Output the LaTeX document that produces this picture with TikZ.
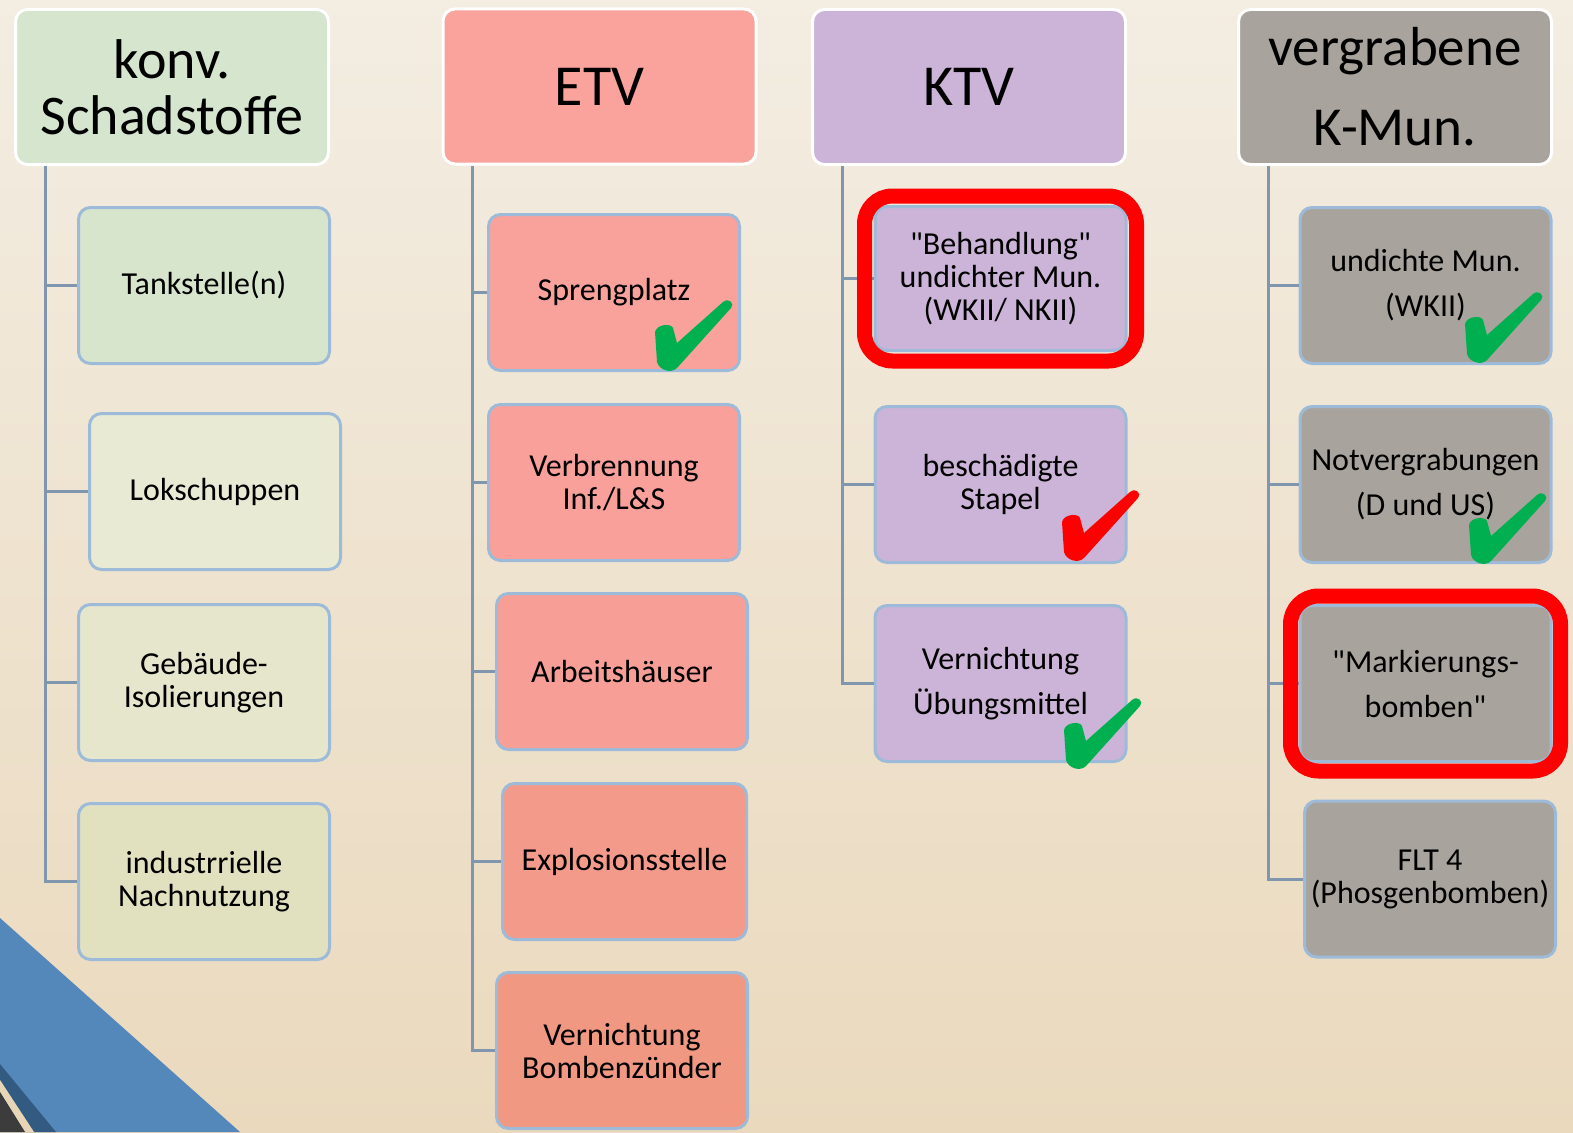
\documentclass[tikz,border=0pt]{standalone}
\usepackage{fontspec}
\setmainfont{Carlito}[Ligatures=TeXOff]
\usetikzlibrary{fit}

\definecolor{bgtop}{HTML}{F3EDE2}
\definecolor{bgmid}{HTML}{F6F2EA}
\definecolor{bgbot}{HTML}{EAD9BD}
\definecolor{cornerblue}{HTML}{5588BA}
\definecolor{cornerdark}{HTML}{335A80}
\definecolor{cornergray}{HTML}{3C3C3C}
\definecolor{cornerbeige}{HTML}{E6D6B6}
\definecolor{boxline}{HTML}{9DBBD9}
\definecolor{trunkblue}{HTML}{8096AE}
\definecolor{kgreen}{HTML}{D5E5CE}
\definecolor{kgreenA}{HTML}{D8E5CD}
\definecolor{kgreenB}{HTML}{E8EAD4}
\definecolor{kgreenC}{HTML}{E5E6CB}
\definecolor{kgreenD}{HTML}{E1E1C0}
\definecolor{epink}{HTML}{F9A39C}
\definecolor{epinkA}{HTML}{F9A29C}
\definecolor{epinkB}{HTML}{F8A099}
\definecolor{epinkC}{HTML}{F79F96}
\definecolor{epinkD}{HTML}{F49A8A}
\definecolor{epinkE}{HTML}{F09882}
\definecolor{tlila}{HTML}{CBB4D7}
\definecolor{vgray}{HTML}{A8A49D}
\definecolor{chkgreen}{HTML}{00B050}

\tikzset{
    hdr/.style={draw=white, line width=3pt, rounded corners=12pt,
        minimum width=313pt, minimum height=155pt, inner sep=0pt,
        align=center, text=black},
    item/.style={draw=boxline, line width=3pt, rounded corners=12pt,
        minimum width=251pt, minimum height=156pt, inner sep=0pt,
        align=center, font=\fontsize{32}{33}\selectfont},
    wide/.style={font=\fontsize{32}{45}\selectfont},
    trunk/.style={draw=trunkblue, line width=3pt},
    ring/.style={draw=red, line width=15pt, rounded corners=28pt, inner sep=9pt},
    chk/.pic={
        \fill[pic actions] (-18,-38) .. controls (-16,-46) and (-2,-47) .. (0,-42)
            -- (4,-27) -- (50,-68) .. controls (56,-73) and (62,-66) .. (58,-62)
            -- (4,-2) .. controls (-2,4) and (-14,0) .. (-16,-8) -- cycle;
    }
}

\begin{document}
\begin{tikzpicture}[x=1pt,y=-1pt]
    \useasboundingbox (0,0) rectangle (1573,1132);
    % background
    \shade[top color=bgtop, middle color=bgmid, bottom color=bgbot] (0,0) rectangle (1573,1132);
    \fill[cornerblue] (0,918) -- (240,1132) -- (0,1132) -- cycle;
    \fill[cornerdark] (0,1064) -- (56,1132) -- (34,1132) -- (0,1080) -- cycle;
    \fill[cornerbeige] (0,1080) -- (34,1132) -- (25,1132) -- (0,1092) -- cycle;
    \fill[cornergray] (0,1092) -- (25,1132) -- (0,1132) -- cycle;

    % headers
    \node[hdr, fill=kgreen, font=\fontsize{56}{56}\selectfont] (k0) at (172,87) {konv.\\Schadstoffe};
    \node[hdr, fill=epink, font=\fontsize{58}{60}\selectfont] (e0) at (599.5,86.5) {ETV};
    \node[hdr, fill=tlila, font=\fontsize{58}{60}\selectfont] (t0) at (969,87) {KTV};
    \node[hdr, fill=vgray, font=\fontsize{55}{80}\selectfont] (v0) at (1395,87) {vergrabene\\K-Mun.};

    % konv. Schadstoffe
    \node[item, fill=kgreenA] (k1) at (204,285.5) {Tankstelle(n)};
    \node[item, fill=kgreenB] (k2) at (215,491.5) {Lokschuppen};
    \node[item, fill=kgreenC] (k3) at (204,682.5) {Gebäude-\\Isolierungen};
    \node[item, fill=kgreenD] (k4) at (204,881.5) {industrrielle\\Nachnutzung};

    % ETV
    \node[item, fill=epinkA] (e1) at (614,292.5) {Sprengplatz};
    \node[item, fill=epinkB] (e2) at (614,482.5) {Verbrennung\\Inf./L\&S};
    \node[item, fill=epinkC] (e3) at (622,671.5) {Arbeitshäuser};
    \node[item, fill=epinkD, minimum width=244pt] (e4) at (624.5,861.5) {Explosionsstelle};
    \node[item, fill=epinkE] (e5) at (622,1050.5) {Vernichtung\\Bombenzünder};

    % KTV
    \node[item, fill=tlila, minimum height=144pt] (t1) at (1000.5,278.5) {"Behandlung"\\undichter Mun.\\(WKII/ NKII)};
    \node[item, fill=tlila] (t2) at (1000.5,484.5) {beschädigte\\Stapel};
    \node[item, wide, fill=tlila] (t3) at (1000.5,683.5) {Vernichtung\\Übungsmittel};

    % vergrabene K-Mun.
    \node[item, wide, fill=vgray] (v1) at (1425.5,285.5) {undichte Mun.\\(WKII)};
    \node[item, wide, fill=vgray] (v2) at (1425.5,484.5) {Notvergrabungen\\(D und US)};
    \node[item, wide, fill=vgray] (v3) at (1425.5,683.5) {"Markierungs-\\bomben"};
    \node[item, fill=vgray] (v4) at (1430,879) {FLT 4\\(Phosgenbomben)};

    % trunks and branches
    \foreach \c/\n in {k/4,e/5,t/3,v/4} {
        \coordinate (\c t) at ([xshift=31pt]\c0.south west);
        \draw[trunk] (\c t) |- (\c\n.west);
        \foreach \i in {1,...,\n} {
            \draw[trunk] (\c t |- \c\i.west) -- (\c\i.west);
        }
    }

    % markings
    \node[ring, fit=(t1)] (r1) {};
    \node[ring, inner sep=8pt, fit=(v3)] (r2) {};
    \pic[fill=chkgreen] at (673,370) {chk};
    \pic[fill=red] at (1080,560) {chk};
    \pic[fill=chkgreen] at (1082,768) {chk};
    \pic[fill=chkgreen] at (1483,362) {chk};
    \pic[fill=chkgreen] at (1487,563) {chk};
\end{tikzpicture}
\end{document}
